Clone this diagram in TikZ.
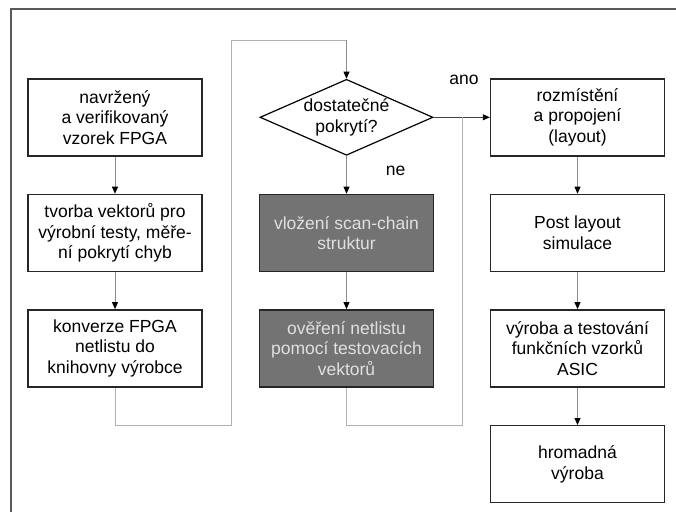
\documentclass[tikz,border=0pt]{standalone}
\usepackage{fontspec}
\setmainfont{Liberation Sans}
\usetikzlibrary{arrows.meta,shapes.geometric}
\begin{document}
\begin{tikzpicture}[x=1pt,y=-1pt,
  every node/.style={font=\fontsize{17.5}{20.5}\selectfont},
  box/.style={draw=black!85,line width=1.4pt,fill=white,minimum width=174pt,minimum height=77pt,inner sep=0pt,align=center},
  graybox/.style={box,fill=black!55,text=black!12},
  conn/.style={draw=black!45,line width=0.8pt,-{Triangle[length=7pt,width=6pt,black]}},
  loopline/.style={draw=black!30,line width=0.9pt},
  darkline/.style={draw=black!75,line width=0.9pt},
  frameline/.style={draw=black!65,line width=1.2pt},
  lbl/.style={inner sep=0pt}
]
\useasboundingbox (0,0) rectangle (676,511);
\draw[frameline] (11,512) -- (11,9) -- (677,9);

% left column
\node[box] (l1) at (115,117.3) {navržený\\a verifikovaný\\vzorek FPGA};
\node[box] (l2) at (115,232.9) {tvorba vektorů pro\\výrobní testy, měře-\\ní pokrytí chyb};
\node[box] (l3) at (115,348.3) {konverze FPGA\\netlistu do\\knihovny výrobce};

% middle column
\node[diamond,draw=black,line width=1.2pt,fill=white,minimum width=173pt,minimum height=76pt,inner sep=0pt] (d) at (346.5,117.3) {};
\node[align=center,inner sep=0pt] (dt) at (d.center) {dostatečné\\pokrytí?};
\node[graybox] (m1) at (346.5,232.9) {vložení scan-chain\\struktur};
\node[graybox] (m2) at (346.5,348.3) {ověření netlistu\\pomocí testovacích\\vektorů};

% right column
\node[box] (r1) at (577.5,117.3) {rozmístění\\a propojení\\(layout)};
\node[box] (r2) at (577.5,232.9) {Post layout\\simulace};
\node[box] (r3) at (577.5,348.3) {výroba a testování\\funkčních vzorků\\ASIC};
\node[box] (r4) at (577.5,464.2) {hromadná\\výroba};

% labels
\node[lbl] (ano) at (464,80) {ano};
\node[lbl] (ne) at (395.5,171) {ne};

% straight connectors
\draw[conn] (l1) -- (l2);
\draw[conn] (l2) -- (l3);
\draw[conn] (d) -- (m1);
\draw[conn] (m1) -- (m2);
\draw[conn] (r1) -- (r2);
\draw[conn] (r2) -- (r3);
\draw[conn] (r3) -- (r4);
\draw[darkline,-{Triangle[length=7pt,width=6pt,black]}] (d.east) -- (r1.west);

% loops
\coordinate (llb) at (231,425);
\coordinate (llt) at (231,40);
\coordinate (mlb) at (462.3,425);
\draw[loopline] (l3.south) -- (l3.south |- llb) -- (llb) -- (llt) -- (llt -| d.north);
\draw[conn] (llt -| d.north) -- (d.north);
\draw[loopline] (m2.south) -- (m2.south |- mlb) -- (mlb) -- (mlb |- d.east);
\end{tikzpicture}
\end{document}
